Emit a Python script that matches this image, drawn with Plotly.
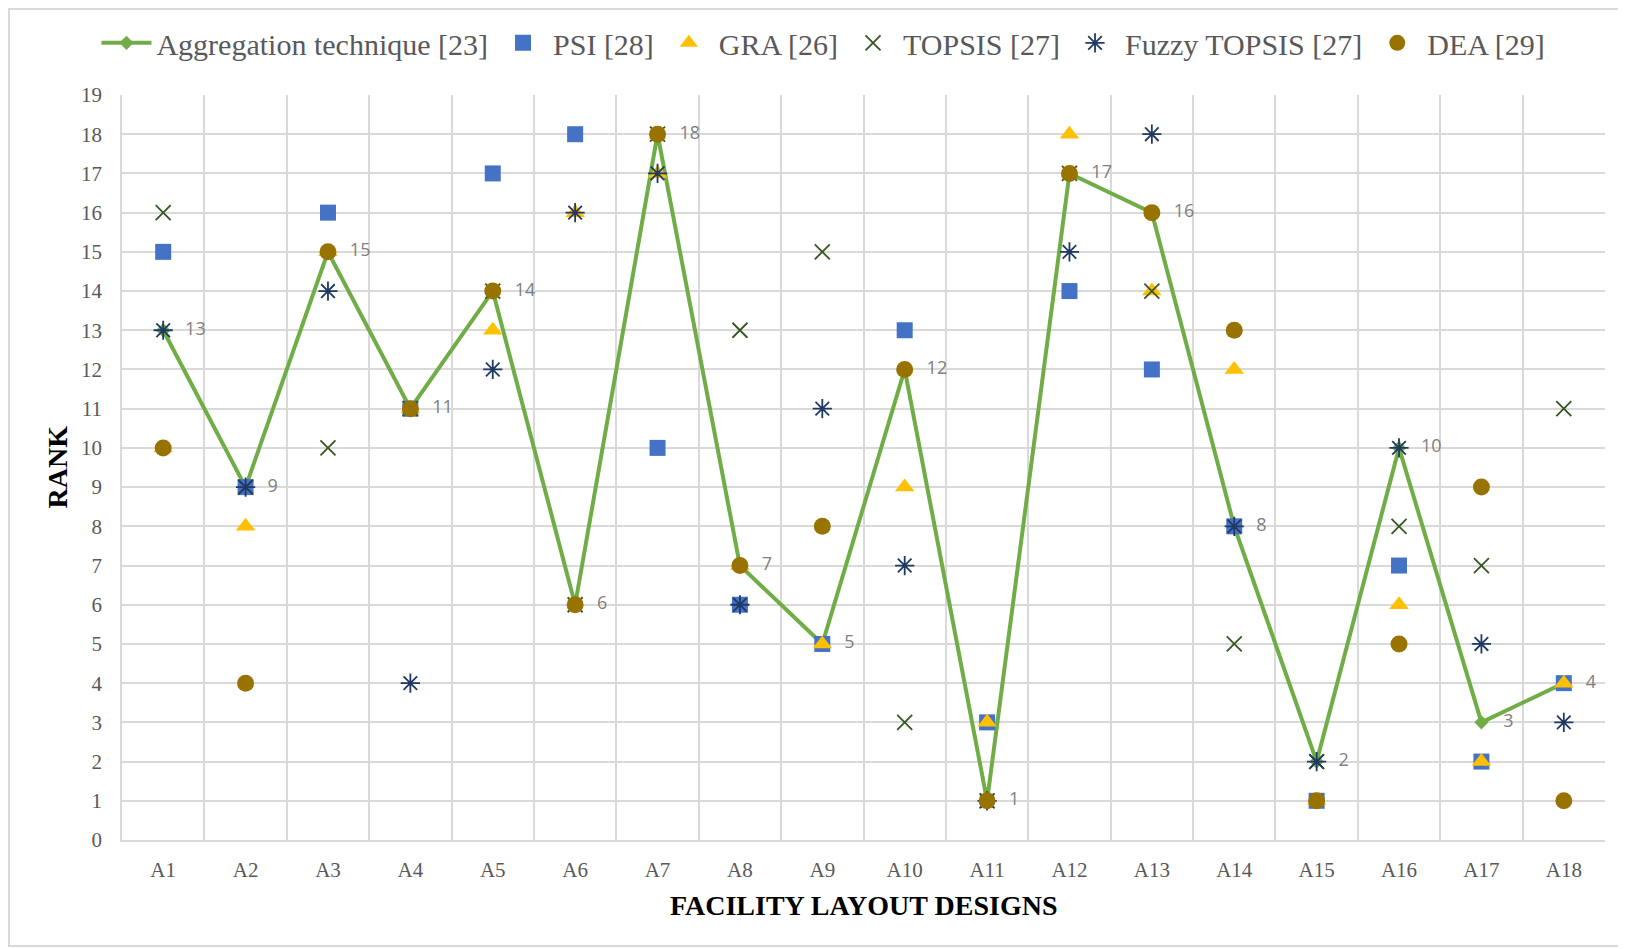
import plotly.graph_objects as go

categories = ["A1","A2","A3","A4","A5","A6","A7","A8","A9","A10","A11","A12","A13","A14","A15","A16","A17","A18"]
aggregation = [13, 9, 15, 11, 14, 6, 18, 7, 5, 12, 1, 17, 16, 8, 2, 10, 3, 4]
psi =         [15, 9, 16, 11, 17, 18, 10, 6, 5, 13, 3, 14, 12, 8, 1, 7, 2, 4]
gra =         [10, 8, 15, 11, 13, 16, 17, 7, 5, 9, 3, 18, 14, 12, 1, 6, 2, 4]
topsis =      [16, 9, 10, 11, 14, 6, 18, 13, 15, 3, 1, 17, 14, 5, 2, 8, 7, 11]
fuzzy_topsis = [13, 9, 14, 4, 12, 16, 17, 6, 11, 7, 1, 15, 18, 8, 2, 10, 5, 3]
dea =         [10, 4, 15, 11, 14, 6, 18, 7, 8, 12, 1, 17, 16, 13, 1, 5, 9, 1]
y_ticks = list(range(0, 20))

xpos = list(range(1, len(categories) + 1))
SERIF = "Liberation Serif, Times New Roman, serif"
GRAY = "#595959"

fig = go.Figure()
fig.add_trace(go.Scatter(
    x=xpos, y=aggregation, name="Aggregation technique [23]", mode="lines+markers+text",
    line=dict(color="#70AD47", width=4),
    marker=dict(symbol="diamond", size=11, color="#70AD47"),
    text=["   " + str(v) for v in aggregation], textposition="middle right",
    textfont=dict(family="Open Sans, Liberation Sans, sans-serif", size=18, color="#7F7F7F"),
))
fig.add_trace(go.Scatter(
    x=xpos, y=psi, name="PSI [28]", mode="markers",
    marker=dict(symbol="square", size=16, color="#4472C4"),
))
fig.add_trace(go.Scatter(
    x=xpos, y=gra, name="GRA [26]", mode="markers",
    marker=dict(symbol="triangle-up", size=17, color="#FFC000"),
))
fig.add_trace(go.Scatter(
    x=xpos, y=topsis, name="TOPSIS [27]", mode="markers",
    marker=dict(symbol="x-thin-open", size=15, color="#375623", line=dict(width=1.8, color="#375623")),
))
fig.add_trace(go.Scatter(
    x=xpos, y=fuzzy_topsis, name="Fuzzy TOPSIS [27]", mode="markers",
    marker=dict(symbol="asterisk-open", size=16, color="#203864", line=dict(width=1.8, color="#203864")),
))
fig.add_trace(go.Scatter(
    x=xpos, y=dea, name="DEA [29]", mode="markers",
    marker=dict(symbol="circle", size=17, color="#997300"),
))

fig.update_layout(
    width=1618, height=941,
    paper_bgcolor="white", plot_bgcolor="white",
    margin=dict(l=114, r=21, t=87, b=109, autoexpand=False),
    font=dict(family=SERIF, color=GRAY),
    showlegend=True,
    legend=dict(orientation="h", x=0.473, y=1.07, xanchor="center", yanchor="middle",
                font=dict(family=SERIF, size=30, color=GRAY), itemwidth=50,
                tracegroupgap=0, bgcolor="rgba(0,0,0,0)"),
    xaxis=dict(
        range=[0.5, len(categories) + 0.5],
        tickvals=xpos, ticktext=categories,
        showgrid=False, zeroline=False,
        showline=True, linecolor="#D9D9D9", linewidth=1.5,
        tickfont=dict(family=SERIF, size=21, color=GRAY),
        ticks="", ticklen=0, ticklabelstandoff=10,
        minor=dict(tickvals=[i + 0.5 for i in range(0, len(categories) + 1)],
                   showgrid=True, gridcolor="#D9D9D9", gridwidth=1.5, ticks=""),
    ),
    yaxis=dict(
        range=[0, 19], tickvals=y_ticks,
        showgrid=True, gridcolor="#D9D9D9", gridwidth=1.5,
        zeroline=False, showline=True, linecolor="#D9D9D9", linewidth=1.5,
        tickfont=dict(family=SERIF, size=21, color=GRAY),
        ticks="", ticklabelstandoff=14,
    ),
    annotations=[
        dict(text="<b>FACILITY LAYOUT DESIGNS</b>", xref="paper", yref="paper",
             x=0.5, y=(840 - 905) / 745, xanchor="center", yanchor="middle", showarrow=False,
             font=dict(family=SERIF, size=28, color="black")),
        dict(text="<b>RANK</b>", xref="paper", yref="paper", textangle=-90,
             x=(57 - 122) / 1483, y=0.5, xanchor="center", yanchor="middle", showarrow=False,
             font=dict(family=SERIF, size=28, color="black")),
    ],
    shapes=[
        dict(type="rect", xref="paper", yref="paper",
             x0=(9 - 122) / 1483, x1=(1640 - 122) / 1483,
             y0=(840 - 946) / 745, y1=(840 - 9) / 745,
             line=dict(color="#D9D9D9", width=2), fillcolor="rgba(0,0,0,0)", layer="below"),
    ],
)

fig.write_html("out.html")
